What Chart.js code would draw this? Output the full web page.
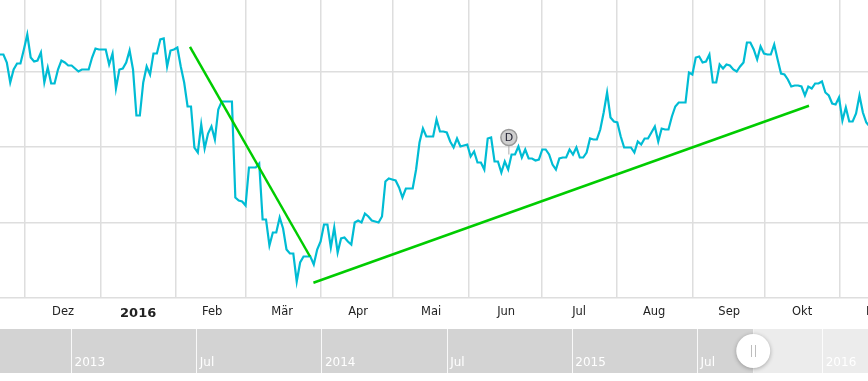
<!DOCTYPE html>
<html>
<head>
<meta charset="utf-8">
<script src="https://cdn.jsdelivr.net/npm/chart.js@4"></script>
<style>
html, body { margin: 0; padding: 0; background: #fff; overflow: hidden; }
canvas { display: block; }
</style>
</head>
<body>
<canvas id="mainChart" width="868" height="329"></canvas>
<canvas id="navChart" width="868" height="52"></canvas>
<script>
// closing price per trading day
const prices = [
    44.3,44.3,43.5,41.5,42.8,43.4,43.4,44.8,46.3,44,43.6,43.7,44.5,41.5,43,41.4,41.4,42.8,43.7,43.5,
    43.2,43.2,42.9,42.6,42.8,42.8,42.8,44,44.9,44.8,44.8,44.8,43.3,44.4,40.9,42.8,42.9,43.5,44.7,42.8,
    38.2,38.2,41.5,43.1,42.3,44.4,44.4,45.8,45.9,43.1,44.7,44.8,45,43.1,41.5,39.1,39.1,35,34.5,37.3,
    34.9,36.4,37.1,35.8,38.8,39.6,39.6,39.6,39.6,30,29.7,29.6,29.2,33,33,33,33.4,27.8,27.8,25.2,
    26.5,26.5,28,26.9,24.8,24.4,24.4,21.6,23.5,24.1,24.1,24.1,23.3,24.8,25.6,27.3,27.3,25,27,24.5,
    25.9,26,25.6,25.3,27.5,27.7,27.5,28.4,28.1,27.7,27.6,27.5,28.1,31.6,31.9,31.8,31.7,31,30,30.9,
    30.9,30.9,32.8,35.5,36.9,36.1,36.1,36.1,37.8,36.6,36.6,36.5,35.6,35,35.9,35.1,35.2,35.3,34.1,34.6,
    33.5,33.5,32.8,35.9,36,33.6,33.6,32.5,33.6,32.8,34.3,34.3,35.1,34,34.8,33.9,33.9,33.7,33.8,34.8,
    34.8,34.3,33.3,32.8,33.9,34,34,34.8,34.3,35,34,34,34.5,35.9,35.8,35.8,36.8,38.5,40.5,38,
    37.6,37.5,36.1,35,35,35,34.5,35.6,35.3,35.9,35.9,36.5,37.1,35.6,36.9,36.8,36.8,38.1,39.1,39.5,
    39.5,39.5,42.5,42.3,44,44.1,43.5,43.6,44.3,41.5,41.5,43.3,42.9,43.3,43.2,42.8,42.6,43.1,43.5,45.5,
    45.5,44.8,43.8,45.1,44.4,44.3,44.3,45.3,43.8,42.4,42.3,41.8,41.1,41.2,41.2,41.1,40.2,41.1,40.9,41.4,
    41.4,41.6,40.5,40.2,39.4,39.3,40,37.7,39,37.6,37.6,38.4,40.2,38.5,37.5,37.1
];
// month boundaries and month names, in trading days
const monthStarts = [7.3, 29.6, 51.6, 72.1, 94.1, 115.2, 137.5, 158.9, 180.9, 203.2, 224.3, 246.3];
const monthNames = ['Nov', 'Dez', '2016', 'Feb', 'Mär', 'Apr', 'Mai', 'Jun', 'Jul', 'Aug', 'Sep', 'Okt', 'Nov'];
const monthCenters = [-3.2, 18.5, 40.5, 62.2, 82.7, 105, 126.4, 148.4, 169.8, 191.8, 213.8, 235.2, 257.2];
const priceGrid = [20, 27.5, 35.05, 42.55];
const trendDown = [[55.7, 45.07], [90.9, 24.1]];
const trendUp = [[91.9, 21.47], [237.2, 39.17]];
const dividend = [149.2, 36];
const dividendBase = 34.3;
// overview strip, in months since Jan 2013
const navTicks = [0, 6, 12, 18, 24, 30, 36];
const navNames = ['2013', 'Jul', '2014', 'Jul', '2015', 'Jul', '2016'];
const navMin = -3.43;
const navMax = 38.17;
const navHandle = 32.67;

const gridColor = '#dedede';
const labelFont = '"DejaVu Sans", Verdana, sans-serif';

function toPoints(pairs) {
    return pairs.map(p => ({x: p[0], y: p[1]}));
}

const dividendLabel = {
    id: 'dividendLabel',
    afterDatasetsDraw(chart) {
        const pt = chart.getDatasetMeta(0).data[0];
        const ctx = chart.ctx;
        ctx.save();
        ctx.fillStyle = '#223';
        ctx.font = '11px ' + labelFont;
        ctx.textAlign = 'center';
        ctx.textBaseline = 'middle';
        ctx.fillText('D', pt.x, pt.y + 0.5);
        ctx.restore();
    }
};

new Chart(document.getElementById('mainChart').getContext('2d'), {
    type: 'line',
    data: {
        datasets: [
            {
                data: toPoints([dividend]),
                pointRadius: 8,
                pointBackgroundColor: '#cfcfcf',
                pointBorderColor: '#999',
                pointBorderWidth: 1.5,
                showLine: false,
                order: 0,
                clip: false
            },
            {
                data: toPoints([[dividend[0], dividendBase], dividend]),
                borderColor: '#aaa',
                borderWidth: 1,
                pointRadius: 0,
                order: 1
            },
            {data: toPoints(trendDown), borderColor: '#00cc00', borderWidth: 2.5, pointRadius: 0, order: 2},
            {data: toPoints(trendUp), borderColor: '#00cc00', borderWidth: 2.5, pointRadius: 0, order: 2},
            {
                data: prices.map((v, i) => ({x: i, y: v})),
                borderColor: '#00bcd4',
                borderWidth: 2.2,
                pointRadius: 0,
                tension: 0,
                order: 3
            }
        ]
    },
    options: {
        responsive: false,
        animation: false,
        layout: {padding: 0, autoPadding: false},
        plugins: {legend: {display: false}, tooltip: {enabled: false}},
        scales: {
            x: {
                type: 'linear',
                min: 0,
                max: 254.5,
                afterBuildTicks(scale) {
                    const all = monthStarts.concat(monthCenters).sort((a, b) => a - b);
                    scale.ticks = all.map(v => ({value: v}));
                },
                afterFit(scale) {
                    scale.height = 31.5;
                    scale.paddingLeft = 0;
                    scale.paddingRight = 0;
                },
                border: {display: false},
                grid: {
                    drawTicks: false,
                    lineWidth: 1.5,
                    color: ctx => (ctx.tick && monthStarts.includes(ctx.tick.value) ? gridColor : 'transparent')
                },
                ticks: {
                    autoSkip: false,
                    maxRotation: 0,
                    padding: 8,
                    color: '#222',
                    font: ctx => (ctx.tick && ctx.tick.value === 40.5
                        ? {family: labelFont, size: 13, weight: 'bold'}
                        : {family: labelFont, size: 11.5}),
                    callback: v => {
                        const k = monthCenters.indexOf(v);
                        return k < 0 ? '' : monthNames[k];
                    }
                }
            },
            y: {
                min: 20,
                max: 49.75,
                afterBuildTicks(scale) {
                    scale.ticks = priceGrid.map(v => ({value: v}));
                },
                afterFit(scale) {
                    scale.width = 0;
                },
                border: {display: false},
                grid: {drawTicks: false, lineWidth: 1.5, color: gridColor},
                ticks: {display: false}
            }
        }
    },
    plugins: [dividendLabel]
});

const navGrip = {
    id: 'navGrip',
    beforeDatasetDraw(chart, args) {
        if (args.index === 0) {
            chart.ctx.save();
            chart.ctx.shadowColor = 'rgba(0,0,0,0.3)';
            chart.ctx.shadowBlur = 4;
            chart.ctx.shadowOffsetY = 1;
        }
    },
    afterDatasetDraw(chart, args) {
        if (args.index === 0) {
            chart.ctx.restore();
        }
    },
    afterDatasetsDraw(chart) {
        const pt = chart.getDatasetMeta(0).data[0];
        const ctx = chart.ctx;
        ctx.save();
        ctx.strokeStyle = '#bdbdbd';
        ctx.lineWidth = 1;
        [-2, 2].forEach(dx => {
            ctx.beginPath();
            ctx.moveTo(Math.round(pt.x + dx) + 0.5, pt.y - 6);
            ctx.lineTo(Math.round(pt.x + dx) + 0.5, pt.y + 6);
            ctx.stroke();
        });
        ctx.restore();
    }
};

new Chart(document.getElementById('navChart').getContext('2d'), {
    type: 'line',
    data: {
        datasets: [
            {
                data: [{x: navHandle, y: 0.5}],
                pointRadius: 17,
                pointBackgroundColor: '#fff',
                pointBorderWidth: 0,
                showLine: false,
                clip: false,
                order: 0
            },
            {
                data: [{x: navMin, y: 1}, {x: navHandle, y: 1}],
                backgroundColor: '#d3d3d3',
                borderWidth: 0,
                pointRadius: 0,
                fill: 'origin',
                order: 1
            },
            {
                data: [{x: navHandle, y: 1}, {x: navMax, y: 1}],
                backgroundColor: '#ececec',
                borderWidth: 0,
                pointRadius: 0,
                fill: 'origin',
                order: 1
            }
        ]
    },
    options: {
        responsive: false,
        animation: false,
        layout: {padding: 0, autoPadding: false},
        plugins: {legend: {display: false}, tooltip: {enabled: false}, filler: {propagate: false}},
        scales: {
            x: {
                type: 'linear',
                min: navMin,
                max: navMax,
                afterBuildTicks(scale) {
                    scale.ticks = navTicks.map(v => ({value: v}));
                },
                afterFit(scale) {
                    scale.height = 8;
                    scale.paddingLeft = 0;
                    scale.paddingRight = 0;
                },
                border: {display: false},
                grid: {drawTicks: false, color: 'rgba(255,255,255,0.85)', lineWidth: 1, z: 1},
                ticks: {
                    autoSkip: false,
                    maxRotation: 0,
                    align: 'start',
                    mirror: true, // otherwise the labels get clipped to the axis box
                    labelOffset: 3,
                    padding: 2.5, // mirrored, so this counts upwards from the axis
                    z: 1,
                    color: '#fff',
                    font: {family: labelFont, size: 12},
                    callback: v => {
                        const k = navTicks.indexOf(v);
                        return k < 0 ? '' : navNames[k];
                    }
                }
            },
            y: {
                min: 0,
                max: 1,
                display: false
            }
        }
    },
    plugins: [navGrip]
});
</script>
</body>
</html>
